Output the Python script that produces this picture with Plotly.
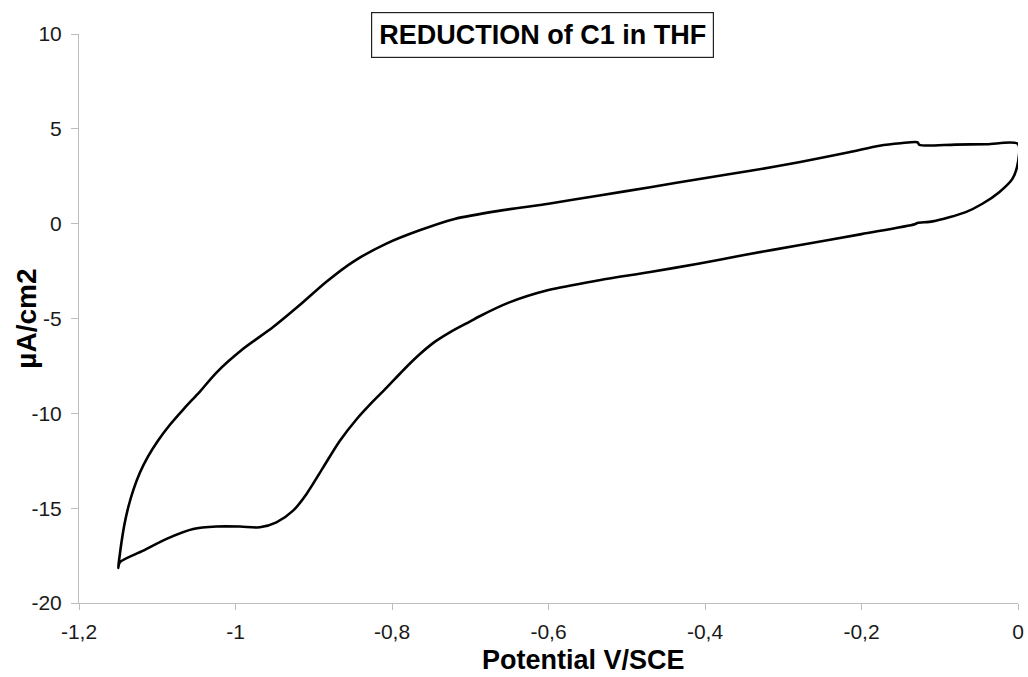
import plotly.graph_objects as go

# Cyclic voltammogram loop: lower (cathodic) branch from 0 V to -1.15 V, then return branch
potential = [0.0, 0.0, -0.0072, -0.024, -0.0455, -0.0668, -0.109, -0.1285, -0.132,
             -0.20, -0.28, -0.35, -0.407, -0.47, -0.535, -0.60, -0.65, -0.688, -0.70, -0.725,
             -0.745, -0.765, -0.7850, -0.8072, -0.8250, -0.8450, -0.8668, -0.8881, -0.9094, -0.9264,
             -0.9477, -0.9689, -0.9945, -1.0242, -1.0541, -1.0881, -1.1179, -1.1477, -1.1500,
             -1.1483, -1.1457, -1.1419, -1.1368, -1.1304, -1.1221, -1.1119, -1.0991,
             -1.0838, -1.0660, -1.0455, -1.0243, -0.9902, -0.9519, -0.9179, -0.8838,
             -0.8498, -0.8072, -0.7647, -0.72,
             -0.66, -0.60, -0.535, -0.47, -0.407, -0.34, -0.28, -0.216, -0.177,
             -0.150, -0.1285, -0.126, -0.08, -0.04, 0.0]
current = [4.20, 3.24, 2.36, 1.66, 1.05, 0.61, 0.12, 0.04, -0.03,
           -0.55, -1.14, -1.65, -2.10, -2.55, -2.98, -3.50, -4.15, -4.88, -5.15, -5.70,
           -6.22, -6.90, -7.70, -8.66, -9.40, -10.30, -11.46, -12.86, -14.26, -15.13,
           -15.75, -16.01, -15.97, -15.97, -16.10, -16.62, -17.24, -17.85, -18.15,
           -17.59, -16.80, -15.85, -14.91, -14.02, -13.12, -12.28, -11.44,
           -10.60, -9.76, -8.85, -7.85, -6.60, -5.45, -4.29, -3.06,
           -2.01, -1.05, -0.35, 0.25,
           0.70, 1.05, 1.49, 1.92, 2.36, 2.80, 3.24, 3.76, 4.11,
           4.24, 4.29, 4.15, 4.17, 4.19, 4.20]

x_ticks = [-1.2, -1.0, -0.8, -0.6, -0.4, -0.2, 0.0]
x_tick_labels = ["-1,2", "-1", "-0,8", "-0,6", "-0,4", "-0,2", "0"]
y_ticks = [-20, -15, -10, -5, 0, 5, 10]
y_tick_labels = ["-20", "-15", "-10", "-5", "0", "5", "10"]

fig = go.Figure()
fig.add_trace(go.Scatter(
    x=potential, y=current, mode="lines",
    line=dict(color="black", width=2.6, shape="spline", smoothing=0.8),
    showlegend=False, hoverinfo="skip"))

FONT = "Liberation Sans, Arial, sans-serif"
axis_font = dict(family=FONT, size=21, color="#1a1a1a")

fig.update_layout(
    width=1028, height=677,
    margin=dict(l=79, r=10, t=34, b=74),
    plot_bgcolor="white", paper_bgcolor="white",
    xaxis=dict(range=[-1.2, 0], tickvals=x_ticks, ticktext=x_tick_labels,
               showgrid=False, zeroline=False, automargin=False,
               showline=True, linecolor="#bdbdbd", linewidth=1,
               ticks="outside", ticklen=6, tickcolor="#bdbdbd",
               ticklabelstandoff=4, tickfont=axis_font),
    yaxis=dict(range=[-20, 10], tickvals=y_ticks, ticktext=y_tick_labels,
               showgrid=False, zeroline=False, automargin=False,
               showline=True, linecolor="#bdbdbd", linewidth=1,
               ticks="outside", ticklen=7, tickcolor="#bdbdbd",
               ticklabelstandoff=5, tickfont=axis_font),
    annotations=[
        dict(text="<b>REDUCTION of C1 in THF</b>", xref="paper", yref="paper",
             x=0.4937, y=0.9975, xanchor="center", yanchor="middle", showarrow=False,
             font=dict(family=FONT, size=27, color="black"),
             bordercolor="#222222", borderwidth=1.2, borderpad=7, bgcolor="white"),
        dict(text="<b>Potential V/SCE</b>", xref="paper", yref="paper",
             x=0.537, y=-0.1003, xanchor="center", yanchor="middle", showarrow=False,
             font=dict(family=FONT, size=27, color="black"), borderpad=0),
        dict(text="<b>µA/cm2</b>", xref="paper", yref="paper", textangle=-90,
             x=-0.0554, y=0.4996, xanchor="center", yanchor="middle", showarrow=False,
             font=dict(family=FONT, size=28, color="black")),
    ],
)

fig.write_html("out.html")
